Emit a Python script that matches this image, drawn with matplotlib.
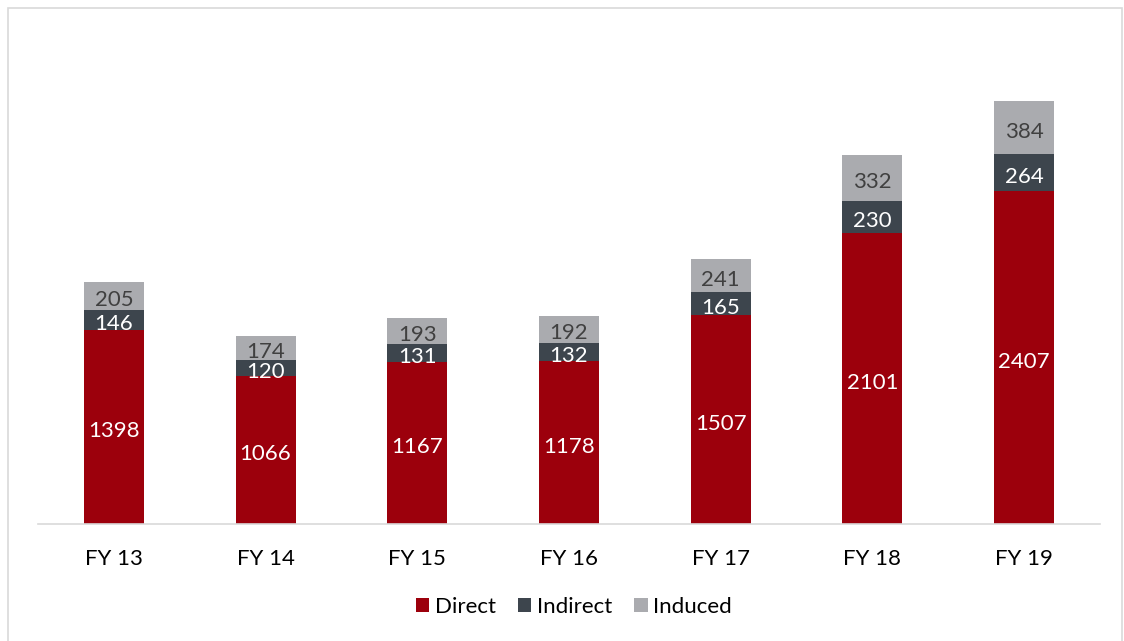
import matplotlib.pyplot as plt
from matplotlib.patches import Rectangle
import numpy as np

# Data
years = ["FY 13", "FY 14", "FY 15", "FY 16", "FY 17", "FY 18", "FY 19"]
direct = [1398, 1066, 1167, 1178, 1507, 2101, 2407]
indirect = [146, 120, 131, 132, 165, 230, 264]
induced = [205, 174, 193, 192, 241, 332, 384]

plt.rcParams["font.family"] = ["Lato", "DejaVu Sans"]

fig = plt.figure(figsize=(11.24, 6.41), dpi=100)
ax = fig.add_axes([38 / 1124, 117 / 641, 1062 / 1124, 493 / 641])

# Light frame around the chart area
fig.patches.append(Rectangle((8 / 1124, -0.01), 1114 / 1124, 633 / 641 + 0.01,
                             transform=fig.transFigure, fill=False,
                             edgecolor="#d9d9d9", linewidth=1.2))

x = np.arange(len(years))
w = 0.395
c_dir, c_ind, c_inu = "#9c000c", "#3d454d", "#aaabaf"

d = np.array(direct)
i1 = np.array(indirect)
i2 = np.array(induced)

ax.bar(x, d, w, color=c_dir, label="Direct")
ax.bar(x, i1, w, bottom=d, color=c_ind, label="Indirect")
ax.bar(x, i2, w, bottom=d + i1, color=c_inu, label="Induced")

fs = 16
off = dict(textcoords="offset points", xytext=(0, -3), ha="center", va="center", fontsize=fs)
for k in range(len(years)):
    ax.annotate(str(d[k]), (x[k], d[k] / 2), color="white", **off)
    ax.annotate(str(i1[k]), (x[k], d[k] + i1[k] / 2), color="white", **off)
    ax.annotate(str(i2[k]), (x[k], d[k] + i1[k] + i2[k] / 2), color="#404040", **off)

ax.set_xlim(-0.5, len(years) - 0.5)
ax.set_ylim(0, 3560)
ax.set_xticks(x)
ax.set_xticklabels(years, fontsize=16)
ax.tick_params(axis="x", length=0, pad=18)
ax.set_yticks([])
for s in ["top", "right", "left"]:
    ax.spines[s].set_visible(False)
ax.spines["bottom"].set_color("#d9d9d9")
ax.spines["bottom"].set_linewidth(1.2)

fig.legend(loc="center", bbox_to_anchor=(0.5 + 12 / 1124, 1 - 607 / 641), ncol=3,
           frameon=False, fontsize=16, handlelength=0.6, handleheight=0.6,
           handletextpad=0.25, columnspacing=1.0)

fig.savefig("out.png", dpi=100)
